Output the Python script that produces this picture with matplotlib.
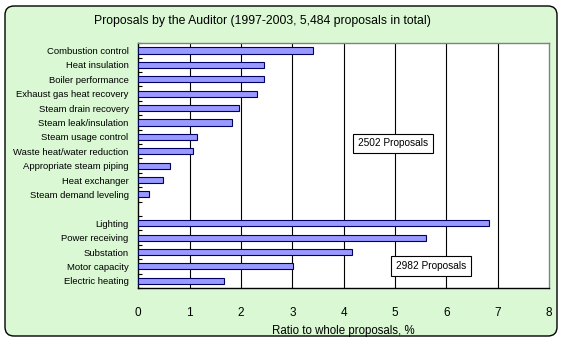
"""
Proposals by the Auditor, 1997-2003: ratio of each proposal type to the
whole set, heat-related group on top and electricity group below.
"""
import matplotlib
matplotlib.use("Agg")
import matplotlib.pyplot as plt
import numpy as np
from matplotlib.patches import FancyBboxPatch

# Heat-related proposals (2502 in total)
heat_labels = [
    "Combustion control", "Heat insulation", "Boiler performance",
    "Exhaust gas heat recovery", "Steam drain recovery",
    "Steam leak/insulation", "Steam usage control",
    "Waste heat/water reduction", "Appropriate steam piping",
    "Heat exchanger", "Steam demand leveling",
]
heat_values = [3.40, 2.44, 2.44, 2.32, 1.97, 1.82, 1.15, 1.07, 0.61, 0.49, 0.20]

# Electricity proposals (2982 in total)
elec_labels = ["Lighting", "Power receiving", "Substation",
               "Motor capacity", "Electric heating"]
elec_values = [6.83, 5.60, 4.17, 3.01, 1.66]

group_notes = ["2502 Proposals", "2982 Proposals"]

plt.rcParams["font.family"] = ["Liberation Sans", "DejaVu Sans"]

fig = plt.figure(figsize=(5.62, 3.40), dpi=100)
fig.patch.set_facecolor("white")

# rounded green panel behind everything
panel = FancyBboxPatch((0.05, 0.04), 5.52, 3.30,
                       boxstyle="round,pad=0,rounding_size=0.09",
                       transform=fig.dpi_scale_trans,
                       facecolor="#d9f8d3", edgecolor="black", lw=1.0,
                       zorder=-10)
fig.patches.append(panel)

ax = fig.add_axes([0.2461, 0.1529, 0.7308, 0.7197])
ax.set_facecolor("white")

# one empty slot between the two groups
y_heat = np.arange(len(heat_labels))
y_elec = np.arange(len(elec_labels)) + len(heat_labels) + 1
n_slots = len(heat_labels) + 1 + len(elec_labels)

ax.barh(y_heat, heat_values, height=0.42, color="#9999ff",
        edgecolor="#000060", lw=0.8, zorder=3)
ax.barh(y_elec, elec_values, height=0.42, color="#9999ff",
        edgecolor="#000060", lw=0.8, zorder=3)

ax.set_xlim(0, 8)
ax.set_ylim(n_slots - 0.5, -0.5)
ax.set_xticks(np.arange(0, 9))
ax.set_xticklabels([str(v) for v in range(9)], fontsize=8.5)
ax.tick_params(axis="x", length=0, pad=14)

ax.set_yticks(np.concatenate([y_heat, y_elec]))
ax.set_yticklabels(heat_labels + elec_labels, fontsize=6.8)
ax.tick_params(axis="y", which="major", length=0, pad=7)
ax.set_yticks(np.arange(-0.5, n_slots, 1.0), minor=True)
ax.tick_params(axis="y", which="minor", direction="in", length=3,
               width=0.8, color="black")

for x in range(1, 8):
    ax.axvline(x, color="black", lw=0.8, zorder=1)

for side in ("left", "bottom"):
    ax.spines[side].set_color("black")
    ax.spines[side].set_linewidth(1.0)
for side in ("top", "right"):
    ax.spines[side].set_color("#808080")
    ax.spines[side].set_linewidth(1.0)

box = dict(boxstyle="square,pad=0.45", facecolor="white",
           edgecolor="black", lw=0.8)
ax.text(4.96, 6.46, group_notes[0], fontsize=7.3, ha="center",
        va="center", bbox=box, zorder=5)
ax.text(5.70, 14.97, group_notes[1], fontsize=7.3, ha="center",
        va="center", bbox=box, zorder=5)

ax.set_xlabel("Ratio to whole proposals, %", fontsize=8.3, labelpad=4)

fig.text(262 / 562, 1 - 21 / 340,
         "Proposals by the Auditor (1997-2003, 5,484 proposals in total)",
         ha="center", va="center", fontsize=8.8)

fig.savefig("out.png", dpi=100)
